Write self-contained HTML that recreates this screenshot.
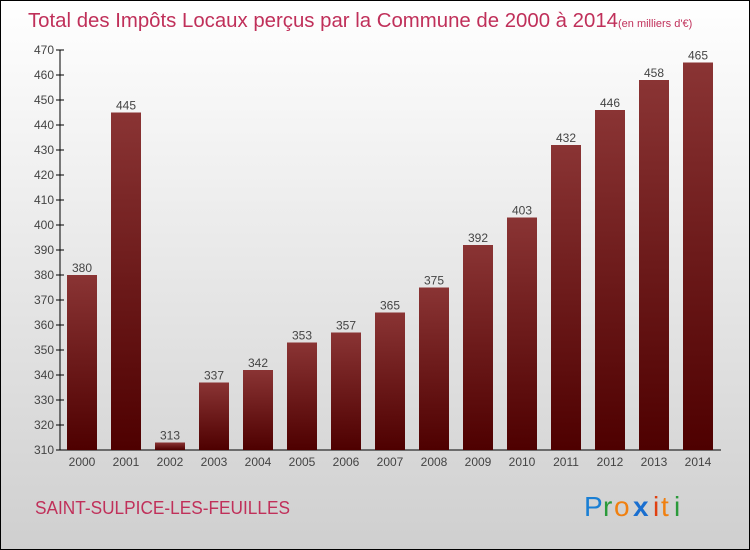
<!DOCTYPE html>
<html><head><meta charset="utf-8"><style>
body{margin:0}
svg{display:block;font-family:"Liberation Sans",sans-serif}
</style></head><body>
<svg width="750" height="550" viewBox="0 0 750 550">
<defs>
<linearGradient id="bg" x1="0" y1="0" x2="0" y2="1"><stop offset="0" stop-color="#ffffff"/><stop offset="1" stop-color="#cfcfcf"/></linearGradient>
<linearGradient id="bar" x1="0" y1="0" x2="0" y2="1"><stop offset="0" stop-color="#8a3434"/><stop offset="1" stop-color="#4e0000"/></linearGradient>
</defs>
<rect x="0.5" y="0.5" width="749" height="549" fill="url(#bg)" stroke="#000"/>
<text x="28" y="27" font-size="20" fill="#c0305a"><tspan textLength="590" lengthAdjust="spacingAndGlyphs">Total des Impôts Locaux perçus par la Commune de 2000 à 2014</tspan><tspan font-size="11">(en milliers d'€)</tspan></text>
<g id="axes"></g>
<g id="bars"></g>
<text x="35" y="514" font-size="18" fill="#c0305a" textLength="255" lengthAdjust="spacingAndGlyphs">SAINT-SULPICE-LES-FEUILLES</text>
<g font-size="28">
<text x="584" y="516" fill="#1a7fd4">P</text><text x="603" y="516" fill="#2a9a3a">r</text><text x="614" y="516" fill="#f08010">o</text><text x="633" y="516" fill="#1a6fd0" font-weight="bold">x</text><text x="653" y="516" fill="#e04010">i</text><text x="661" y="516" fill="#f08010">t</text><text x="674" y="516" fill="#2a9a3a">i</text>
</g>
</svg>
<script>
const categories=["2000","2001","2002","2003","2004","2005","2006","2007","2008","2009","2010","2011","2012","2013","2014"];
const values=[380,445,313,337,342,353,357,365,375,392,403,432,446,458,465];
const yTicks=[310,320,330,340,350,360,370,380,390,400,410,420,430,440,450,460,470];
const NS="http://www.w3.org/2000/svg";
const y=v=>450-(v-310)*2.5;
const x=i=>82+i*44;
const ax=document.getElementById('axes'),bg=document.getElementById('bars');
function mk(t,a,p){const e=document.createElementNS(NS,t);for(const k in a)e.setAttribute(k,a[k]);p.appendChild(e);return e;}
let l=mk('line',{x1:60,y1:50,x2:60,y2:450,stroke:'#000'},ax);


l=mk('line',{x1:60,y1:450,x2:721,y2:450,stroke:'#000'},ax);


yTicks.forEach(v=>{
 mk('line',{x1:56,x2:64,y1:y(v),y2:y(v),stroke:'#000'},ax);
 const t=mk('text',{x:54,y:y(v)+4,'text-anchor':'end','font-size':12,fill:'#444'},ax);
 t.textContent=v;
 
 
});
categories.forEach((c,i)=>{
 const r=mk('rect',{x:x(i)-15,y:y(values[i]),width:30,height:450-y(values[i]),fill:'url(#bar)'},bg);
 
 
 const t=mk('text',{x:x(i),y:y(values[i])-3,'text-anchor':'middle','font-size':12,fill:'#444'},bg);
 t.textContent=values[i];
 
 
 const tx=mk('text',{x:x(i),y:466,'text-anchor':'middle','font-size':12,fill:'#444'},ax);
 tx.textContent=c;
 
 
});
</script>
</body></html>
